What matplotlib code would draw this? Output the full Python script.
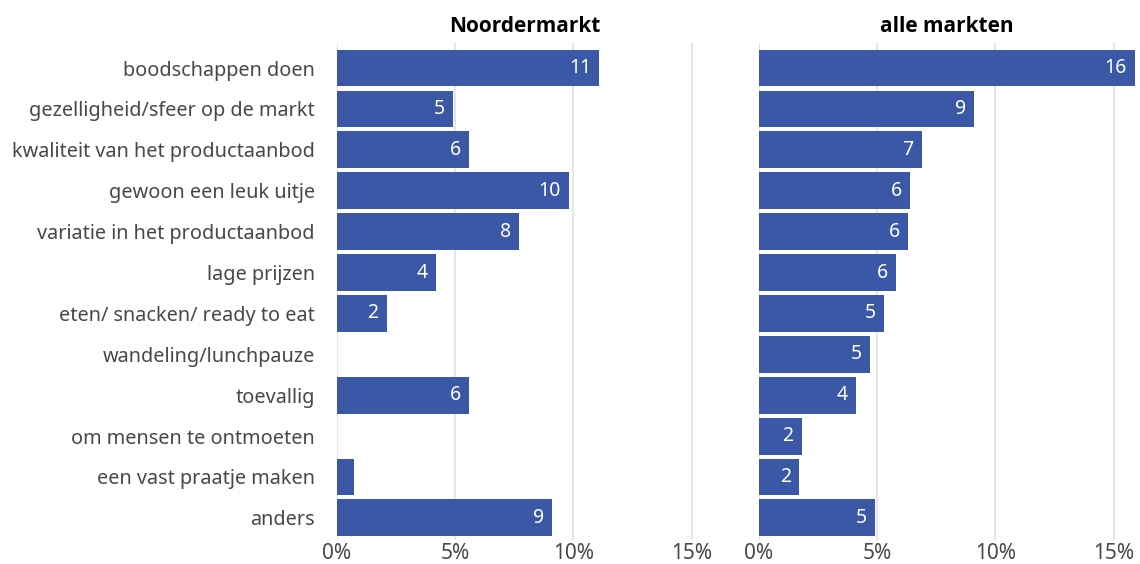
import matplotlib.pyplot as plt

categories = ["boodschappen doen", "gezelligheid/sfeer op de markt",
              "kwaliteit van het productaanbod", "gewoon een leuk uitje",
              "variatie in het productaanbod", "lage prijzen",
              "eten/ snacken/ ready to eat", "wandeling/lunchpauze",
              "toevallig", "om mensen te ontmoeten", "een vast praatje maken",
              "anders"]
noordermarkt = [11.1, 4.9, 5.6, 9.8, 7.7, 4.2, 2.1, 0.0, 5.6, 0.0, 0.7, 9.1]
alle_markten = [15.9, 9.1, 6.9, 6.4, 6.3, 5.8, 5.3, 4.7, 4.1, 1.8, 1.7, 4.9]
titles = ["Noordermarkt", "alle markten"]
xticks = [0, 5, 10, 15]

plt.rcParams['font.family'] = ['Noto Sans', 'DejaVu Sans']
bar_color = "#3a58a5"
text_grey = "#484848"

fig = plt.figure(figsize=(11.4, 5.64), dpi=100)
ax1 = fig.add_axes([0.2956, 0.0426, 0.3298, 0.881])
ax2 = fig.add_axes([0.6658, 0.0426, 0.3298, 0.881])

ypos = list(range(len(categories)))

for ax, vals, title in [(ax1, noordermarkt, titles[0]), (ax2, alle_markten, titles[1])]:
    ax.barh(ypos, vals, height=0.9, color=bar_color, zorder=2)
    for y, v in zip(ypos, vals):
        if v >= 1:
            ax.annotate(str(round(v)), (v, y), xytext=(-6, 0), textcoords="offset points",
                        ha="right", va="center", color="white", fontsize=14, zorder=3)
    ax.set_xlim(0, 15.9)
    ax.set_ylim(11.54, -0.61)
    ax.set_xticks(xticks)
    ax.set_xticklabels([f"{t}%" for t in xticks], fontsize=15, color=text_grey)
    ax.grid(axis="x", color="#e6e6e6", linewidth=1.5, zorder=0)
    ax.tick_params(length=0, pad=2)
    for s in ax.spines.values():
        s.set_visible(False)
    ax.set_title(title, fontsize=15, fontweight="bold", family=["Open Sans", "DejaVu Sans"],
                 color="black", pad=8)

ax1.set_yticks(ypos)
ax1.set_yticklabels(categories, fontsize=14.3, color=text_grey)
ax1.tick_params(axis="y", pad=16)
ax2.set_yticks([])

fig.savefig("out.png", dpi=100)
